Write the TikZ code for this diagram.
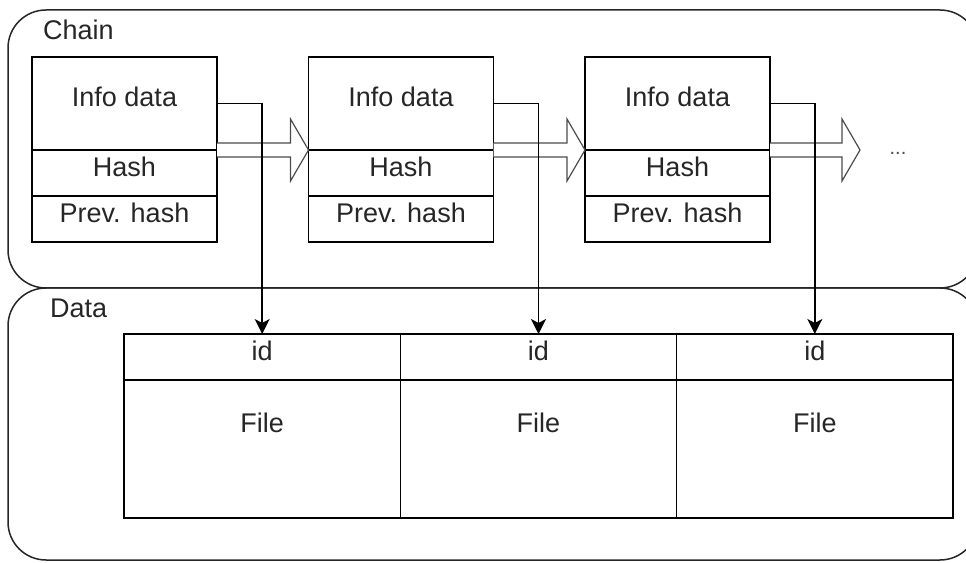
\documentclass[tikz,border=0pt]{standalone}
\usepackage{fontspec}
\setmainfont{Liberation Sans}
\usetikzlibrary{positioning,arrows.meta,calc}

\begin{document}
\begin{tikzpicture}[
  x=1pt, y=1pt,
  font=\fontsize{27}{32}\selectfont,
  node distance=0pt,
  lane/.style={rectangle, draw=black!85, line width=1.5pt, rounded corners=38pt,
               anchor=north west, inner sep=0pt, outer sep=0pt},
  lanelabel/.style={anchor=west, inner sep=0pt, text=black!85},
  cell/.style={rectangle, draw=black, line width=1.5pt, minimum width=185pt,
               inner sep=0pt, outer sep=0pt, text=black!85,
               text height=0.72em, text depth=0.1em},
  infocell/.style={cell, minimum height=93pt},
  hashcell/.style={cell, minimum height=46pt},
  idcell/.style={cell, minimum width=276.33pt, minimum height=46pt},
  filecell/.style={cell, minimum width=276.33pt, minimum height=138pt,
                   label={[inner sep=0pt, below=33pt, text=black!85]north:File}},
  link/.style={-{Stealth[length=15pt, width=15pt, inset=4pt]}, line width=1.5pt, draw=black},
  hollow/.style={draw=black!70, line width=1.2pt, fill=white, line join=miter},
]
\useasboundingbox (0,0) rectangle (966,562);

% lanes
\node[lane, minimum width=970pt, minimum height=278pt] (chain) at (8,552) {};
\node[lane, minimum width=970pt, minimum height=272pt] (data) at (8,274) {};
\node[lanelabel] (chainlbl) at (43,532) {Chain};
\node[lanelabel] (datalbl) at (50,254) {Data};

% blocks
\node[infocell, anchor=north west] (info1) at (32,505) {Info data};
\node[hashcell, below=of info1] (hash1) {Hash};
\node[hashcell, below=of hash1] (prev1) {Prev. hash};

\node[infocell, right=91.5pt of info1] (info2) {Info data};
\node[hashcell, below=of info2] (hash2) {Hash};
\node[hashcell, below=of hash2] (prev2) {Prev. hash};

\node[infocell, right=91.5pt of info2] (info3) {Info data};
\node[hashcell, below=of info3] (hash3) {Hash};
\node[hashcell, below=of hash3] (prev3) {Prev. hash};

% data table
\node[idcell, anchor=north west] (id1) at (124,228) {id};
\node[filecell, below=of id1] (file1) {};
\node[idcell, right=of id1] (id2) {id};
\node[filecell, below=of id2] (file2) {};
\node[idcell, right=of id2] (id3) {id};
\node[filecell, below=of id3] (file3) {};

% chain arrows
\coordinate (tip2) at (info2.south west);
\coordinate (tip3) at (info3.south west);
\coordinate (tip4) at ($(info3.south east)+(90,0)$);
\node[text=black!70, font=\fontsize{20}{22}\selectfont] (dots) at (898,409) {...};

\foreach \from/\tip in {info1/tip2, info2/tip3, info3/tip4}
  \draw[hollow] ([yshift=7pt]\from.south east) -- ([shift={(-18pt,7pt)}]\tip)
    -- ++(0,24) -- (\tip) -- ++(-18,-31) -- ++(0,24) -- ([yshift=-7pt]\from.south east);

% links to data
\draw[link] (info1.east) -| (id1.north);
\draw[link] (info2.east) -| (id2.north);
\draw[link] (info3.east) -| (id3.north);
\end{tikzpicture}
\end{document}
